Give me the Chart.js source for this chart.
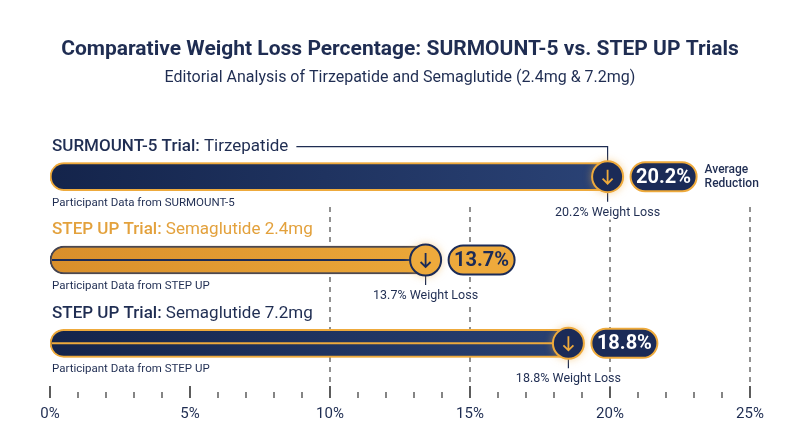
<!DOCTYPE html>
<html><head><meta charset="utf-8">
<script src="https://cdn.jsdelivr.net/npm/chart.js@4/dist/chart.umd.min.js"></script>
<style>html,body{margin:0;padding:0;background:#fff}#w{width:800px;height:447px}</style>
</head><body><div id="w"><canvas id="c"></canvas></div>
<script>
const trialNames = ["SURMOUNT-5 Trial:", "STEP UP Trial:", "STEP UP Trial:"];
const drugNames = ["Tirzepatide", "Semaglutide 2.4mg", "Semaglutide 7.2mg"];
const sourceLabels = ["Participant Data from SURMOUNT-5", "Participant Data from STEP UP", "Participant Data from STEP UP"];
const weightLoss = [20.2, 13.7, 18.8];
const tickValues = [0, 5, 10, 15, 20, 25];
const tickLabels = ["0%", "5%", "10%", "15%", "20%", "25%"];
const gridValues = [10, 15, 20, 25];

const NAVY = "#1b2b57", ORANGE = "#eeaa3c", TXT = "#1f2d52";
const FONT = "Roboto, 'Noto Sans', sans-serif";

function rr(ctx, x, y, w, h, r) { ctx.beginPath(); ctx.roundRect(x, y, w, h, r); }

const deco = {
  id: 'deco',
  beforeDatasetsDraw(chart) {
    const ctx = chart.ctx, xs = chart.scales.x, a = chart.chartArea;
    ctx.save();
    ctx.fillStyle = TXT; ctx.textAlign = 'center'; ctx.textBaseline = 'middle';
    ctx.font = "bold 21px " + FONT;
    ctx.fillText("Comparative Weight Loss Percentage: SURMOUNT-5 vs. STEP UP Trials", 400, 50);
    ctx.font = "16px " + FONT;
    ctx.fillText("Editorial Analysis of Tirzepatide and Semaglutide (2.4mg & 7.2mg)", 400, 78);
    ctx.strokeStyle = "#555"; ctx.lineWidth = 1.3; ctx.setLineDash([5, 5]);
    gridValues.forEach(v => { const x = xs.getPixelForValue(v);
      ctx.beginPath(); ctx.moveTo(x, 207); ctx.lineTo(x, a.bottom); ctx.stroke(); });
    ctx.setLineDash([]);
    ctx.strokeStyle = "#333";
    for (let v = 0; v <= 25; v++) { const x = xs.getPixelForValue(v);
      ctx.lineWidth = v % 5 === 0 ? 1.6 : 1.2;
      ctx.beginPath(); ctx.moveTo(x, v % 5 === 0 ? 386 : 392); ctx.lineTo(x, 398); ctx.stroke(); }
    ctx.font = "15px " + FONT; ctx.fillStyle = TXT;
    tickValues.forEach((v, i) => ctx.fillText(tickLabels[i], xs.getPixelForValue(v), 414));
    ctx.restore();
    ctx.save();
    ctx.shadowColor = "rgba(238,170,60,0.55)"; ctx.shadowBlur = 12;
  },
  afterDatasetsDraw(chart) {
    const ctx = chart.ctx, xs = chart.scales.x;
    ctx.restore();
    const meta = chart.getDatasetMeta(0);
    ctx.save();
    meta.data.forEach((bar, i) => {
      const y = bar.y, xEnd = bar.x, x0 = xs.getPixelForValue(0);
      const orange = i === 1;
      if (i > 0) { ctx.strokeStyle = orange ? NAVY : ORANGE; ctx.lineWidth = 2;
        ctx.beginPath(); ctx.moveTo(x0 + 2, y); ctx.lineTo(xEnd - 20, y); ctx.stroke(); }
      const ly = y - 30;
      ctx.textAlign = 'left'; ctx.textBaseline = 'middle';
      ctx.fillStyle = orange ? "#e3a13c" : TXT;
      ctx.font = "500 17px " + FONT; ctx.fillText(trialNames[i], 52, ly);
      let w1 = ctx.measureText(trialNames[i] + " ").width;
      ctx.font = "17px " + FONT; ctx.fillText(drugNames[i], 52 + w1, ly);
      let lend = 52 + w1 + ctx.measureText(drugNames[i]).width;
      const cx = xEnd - 8;
      if (i === 0) { ctx.strokeStyle = TXT; ctx.lineWidth = 1.2;
        ctx.beginPath(); ctx.moveTo(lend + 8, ly); ctx.lineTo(cx, ly); ctx.lineTo(cx, y - 15); ctx.stroke(); }
      ctx.fillStyle = TXT; ctx.font = "11.5px " + FONT;
      ctx.fillText(sourceLabels[i], 52, y + 26);
      ctx.textAlign = 'center'; ctx.font = "12.5px " + FONT;
      const lbl = weightLoss[i] + "% Weight Loss", lw = ctx.measureText(lbl).width;
      ctx.fillStyle = "#fff"; ctx.fillRect(cx - lw / 2 - 2, y + 29, lw + 4, 14);
      ctx.fillStyle = TXT; ctx.fillText(lbl, cx, y + 36);
      ctx.strokeStyle = TXT; ctx.lineWidth = 1.2;
      ctx.beginPath(); ctx.moveTo(cx, y + 15); ctx.lineTo(cx, y + 25); ctx.stroke();
      ctx.save(); ctx.shadowColor = "rgba(238,170,60,0.6)"; ctx.shadowBlur = 8;
      ctx.beginPath(); ctx.arc(cx, y, 15.5, 0, Math.PI * 2);
      ctx.fillStyle = orange ? ORANGE : NAVY; ctx.fill(); ctx.restore();
      ctx.lineWidth = 2; ctx.strokeStyle = orange ? NAVY : ORANGE;
      ctx.beginPath(); ctx.arc(cx, y, 15.5, 0, Math.PI * 2); ctx.stroke();
      ctx.lineWidth = 1.8;
      ctx.beginPath(); ctx.moveTo(cx, y - 7); ctx.lineTo(cx, y + 7);
      ctx.moveTo(cx - 5, y + 2); ctx.lineTo(cx, y + 7); ctx.lineTo(cx + 5, y + 2); ctx.stroke();
      const px = cx + 23, pw = 66, ph = 29;
      rr(ctx, px, y - ph / 2, pw, ph, 14.5);
      ctx.fillStyle = orange ? ORANGE : NAVY; ctx.fill();
      ctx.lineWidth = 2; ctx.strokeStyle = orange ? NAVY : ORANGE; ctx.stroke();
      ctx.fillStyle = orange ? NAVY : "#fff"; ctx.font = "bold 20px " + FONT;
      ctx.fillText(weightLoss[i] + "%", px + pw / 2, y + 1);
      if (i === 0) { ctx.textAlign = 'left'; ctx.fillStyle = TXT; ctx.font = "500 12px " + FONT;
        ctx.fillText("Average", px + pw + 8, y - 7); ctx.fillText("Reduction", px + pw + 8, y + 7); }
    });
    ctx.restore();
  }
};

function grad(ctx, chart, i) {
  const a = chart.chartArea; if (!a) return NAVY;
  const g = ctx.createLinearGradient(a.left, 0, a.right * 0.8, 0);
  if (i === 1) { g.addColorStop(0, "#d98f2b"); g.addColorStop(1, "#f3b23f"); }
  else { g.addColorStop(0, "#14244b"); g.addColorStop(1, "#2a4275"); }
  return g;
}

new Chart(document.getElementById('c'), {
  type: 'bar',
  data: { labels: drugNames, datasets: [{
    data: weightLoss,
    backgroundColor: c => grad(c.chart.ctx, c.chart, c.dataIndex),
    borderColor: c => c.dataIndex === 1 ? NAVY : ORANGE,
    borderWidth: 2, borderSkipped: false, borderRadius: 14, barThickness: 28
  }]},
  options: {
    indexAxis: 'y', responsive: true, maintainAspectRatio: false, animation: false,
    layout: { padding: { left: 50, right: 50, top: 135, bottom: 62 } },
    plugins: { legend: { display: false }, tooltip: { enabled: false } },
    scales: {
      x: { min: 0, max: 25, display: false },
      y: { display: false }
    }
  },
  plugins: [deco]
});
</script></body></html>
